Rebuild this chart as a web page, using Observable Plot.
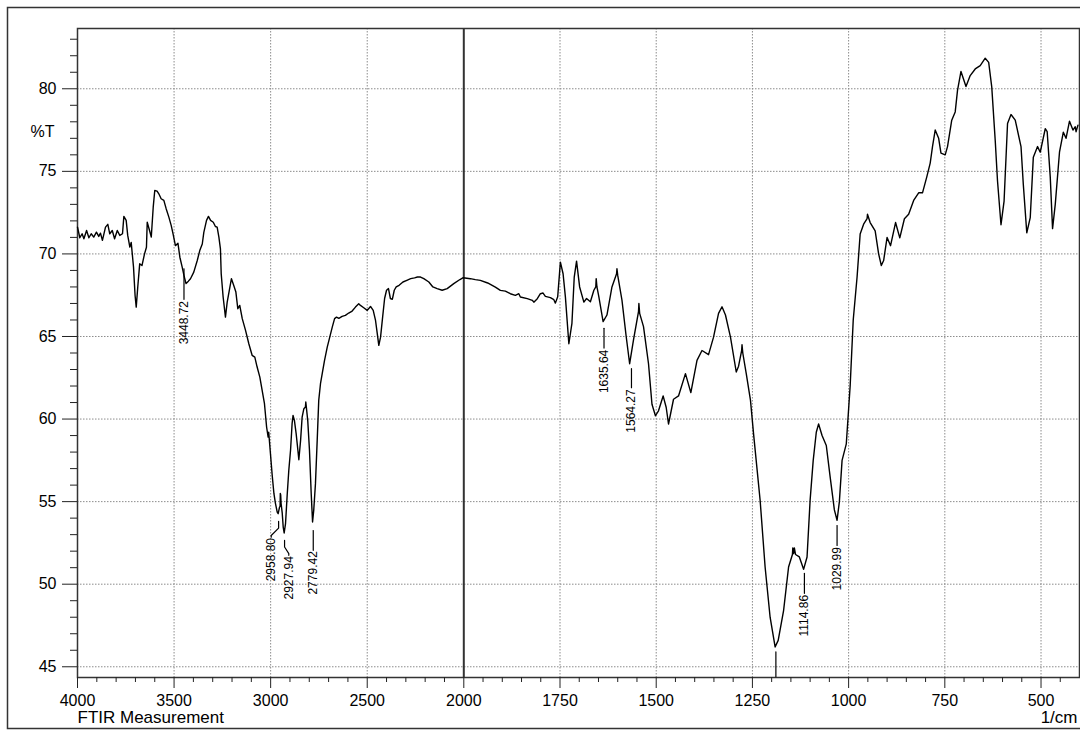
<!DOCTYPE html>
<html><head><meta charset="utf-8">
<script src="https://cdn.jsdelivr.net/npm/d3@7"></script>
<script src="https://cdn.jsdelivr.net/npm/@observablehq/plot@0.6"></script>
<style>
html,body{margin:0;padding:0;background:#fff;}
#chart svg{display:block;}
</style></head><body><div id="chart"></div>
<script>
// Spectrum: wavenumber (1/cm) and transmittance (%T)
const wavenumber = [
4000,3988,3976,3967,3953,3941,3929,3916,3902,3890,3881,3871,3855,3843,3833,3820,3808,3794,3781,3767,
3760,3748,3740,3729,3722,3710,3702,3696,3688,3678,3666,3653,3643,3639,3627,3618,3608,3600,3588,3579,
3567,3553,3541,3527,3515,3505,3493,3480,3470,3458,3447,3438,3426,3415,3398,3380,3367,3354,3346,3332,
3322,3311,3297,3286,3277,3268,3260,3256,3246,3234,3225,3211,3203,3191,3180,3170,3160,3147,3130,3113,
3096,3082,3070,3056,3044,3032,3021,3013,3010,3001,2992,2983,2975,2966,2961,2954,2951,2950,2948,2946,
2940,2935,2930,2923,2914,2906,2897,2889,2884,2877,2868,2859,2854,2845,2837,2828,2820,2818,2808,2799,
2790,2783,2777,2768,2759,2751,2742,2733,2721,2707,2694,2681,2669,2659,2647,2630,2613,2596,2578,2561,
2544,2535,2518,2500,2483,2469,2457,2448,2440,2431,2420,2410,2400,2390,2380,2370,2360,2350,2335,2315,
2295,2275,2255,2240,2224,2207,2181,2160,2138,2112,2086,2052,2020,2003,
1983,1970,1957,1938,1918,1905,1892,1879,1866,1857,1853,1835,1822,1818,1809,1801,1794,1788,1775,1766,1762,
1756,1749,1742,1736,1727,1719,1713,1707,1699,1688,1681,1671,1662,1657,
1656,1654,1649,1638,1628,1615,1603,1602,1600,1589,1578,1569,1559,1546,1545,1543,1533,1520,1511,1502,
1494,1482,1474,1468,1455,1442,1424,1410,1394,1381,1364,1351,1338,1329,1320,1307,1292,1286,1278,1277,
1275,1266,1255,1247,1230,1217,1204,1191,1183,1169,1156,1146,1145,1143,1141,1138,1128,1117,1108,1100,
1092,1084,1078,1069,1058,1048,1037,1030,1024,1017,1006,996,988,978,970,961,952,951,944,931,
922,915,909,900,891,878,867,855,844,831,818,808,797,788,782,775,766,760,749,743,
732,723,717,708,695,684,671,658,645,636,628,619,613,604,596,587,578,567,552,546,
537,528,520,509,502,489,484,476,470,463,452,442,435,426,417,411,409,404
];
const transmittance = [
71.62,70.98,71.22,70.92,71.42,70.98,71.22,71.02,71.32,71.06,71.26,70.82,71.62,71.79,71.22,71.42,70.92,71.42,71.12,71.22,
72.27,72.03,71.12,70.41,70.7,69.2,67.5,66.78,68.0,69.4,69.3,70.0,70.4,71.92,71.42,71.02,72.83,73.84,73.8,73.64,
73.34,73.24,72.74,72.23,71.73,71.2,70.5,70.65,69.8,69.2,68.6,68.2,68.35,68.5,68.9,69.6,70.2,70.6,71.3,72.03,
72.27,72.03,71.92,71.66,71.62,71.02,70.31,68.8,67.39,66.17,67.08,67.99,68.5,68.09,67.69,66.68,66.88,66.08,65.37,64.56,
63.86,63.75,63.15,62.54,61.74,60.93,59.52,58.91,59.2,57.9,56.6,55.48,54.88,54.37,54.27,54.67,54.7,55.5,55.4,54.9,
54.3,53.46,53.1,53.67,55.48,56.9,58.11,59.72,60.22,59.92,59.12,58.11,57.54,58.71,60.12,60.63,60.73,61.03,59.92,58.11,
55.48,53.77,54.47,56.09,58.71,61.13,62.14,62.75,63.55,64.36,64.96,65.57,66.08,66.17,66.1,66.22,66.28,66.42,66.54,66.78,
66.98,66.88,66.74,66.58,66.82,66.58,65.97,65.17,64.46,64.96,66.2,67.3,67.8,67.9,67.3,67.25,67.8,68.0,68.1,68.3,
68.4,68.5,68.55,68.6,68.6,68.5,68.3,68.0,67.9,67.8,67.9,68.2,68.45,68.56,
68.5,68.44,68.4,68.24,67.99,67.79,67.75,67.59,67.49,67.59,67.39,67.29,67.19,67.08,67.29,67.59,67.63,67.43,67.35,67.23,67.02,
67.4,69.5,68.8,67.4,64.56,65.8,68.6,69.56,68.0,67.08,67.3,67.1,67.8,68.0,
68.5,68.0,67.4,65.9,66.3,68.0,68.8,69.1,68.7,67.2,65.0,63.35,64.8,66.5,67.0,66.4,65.6,63.35,60.9,60.2,
60.5,61.4,60.7,59.7,61.2,61.4,62.75,61.6,63.55,64.15,63.9,64.96,66.4,66.8,66.3,64.96,62.85,63.2,64.15,64.5,
64.0,62.75,61.13,59.1,55.1,51.04,48.0,46.2,46.6,48.4,51.04,51.8,52.2,51.85,52.2,51.8,51.65,50.9,51.65,55.1,
57.5,59.2,59.7,59.0,58.4,56.5,54.5,53.87,55.0,57.5,58.5,62.0,66.0,68.6,71.2,71.8,72.13,72.4,71.9,71.4,
70.0,69.3,69.6,71.0,70.5,71.9,70.97,72.13,72.4,73.24,73.7,73.7,74.65,75.5,76.5,77.5,77.0,76.1,76.0,76.5,
78.1,78.6,79.9,81.05,80.14,80.8,81.2,81.4,81.85,81.6,80.1,76.87,74.4,71.77,73.2,77.9,78.44,78.1,76.5,74.2,
71.28,72.2,75.86,76.5,76.16,77.58,77.4,74.65,71.53,73.0,76.16,77.37,77.0,78.04,77.5,77.7,77.4,77.8
];

// Tick values
const xMajorTicks = [4000, 3500, 3000, 2500, 2000, 1750, 1500, 1250, 1000, 750, 500];
const xMinorTicks = [3900,3800,3700,3600,3400,3300,3200,3100,2900,2800,2700,2600,2400,2300,2200,2100,
  1950,1900,1850,1800,1700,1650,1600,1550,1450,1400,1350,1300,1200,1150,1100,1050,950,900,850,800,700,650,600,550,450];
const yMajorTicks = [45, 50, 55, 60, 65, 70, 75, 80];
const yMinorTicks = [46,47,48,49,51,52,53,54,56,57,58,59,61,62,63,64,66,67,68,69,71,72,73,74,76,77,78,79,81,82,83];

// Peak annotations
const peakLabel  = ["3448.72", "2958.80", "2927.94", "2779.42", "1635.64", "1564.27", "1114.86", "1029.99"];
const peakLabelX = [3448.72, 2997, 2906, 2779.42, 1635.64, 1564.27, 1114.86, 1029.99];
const peakLabelT = [67.15, 52.8, 51.7, 52.0, 64.2, 61.8, 49.35, 52.25];

// Leader lines (wavenumber, %T, peak id)
const leaderX  = [3448.72,3448.72, 2958.8,2958.8,2997,2997, 2927.94,2927.94,2906,2906, 2779.42,2779.42,
                  1635.64,1635.64, 1564.27,1564.27, 1189,1189, 1114.86,1114.86, 1029.99,1029.99];
const leaderT  = [69.1,67.25, 53.8,53.4,52.95,52.85, 52.65,52.25,51.85,51.75, 53.25,52.05,
                  65.5,64.3, 63.05,61.9, 45.9,44.4, 50.65,49.45, 53.55,52.35];
const leaderId = [1,1, 2,2,2,2, 3,3,3,3, 4,4, 5,5, 6,6, 7,7, 8,8, 9,9];

const spectrum = wavenumber.map((w, i) => ({w, t: transmittance[i]}));
const leaders = leaderX.map((w, i) => ({w, t: leaderT[i], id: leaderId[i]}));
const labels = peakLabel.map((s, i) => ({s, w: peakLabelX[i], t: peakLabelT[i]}));

const font = '"Liberation Sans", Arial, Helvetica, sans-serif';
const gridStyle = {stroke: "#8c8c8c", strokeOpacity: 1, strokeWidth: 1, strokeDasharray: "1.5,1.5"};

const chart = Plot.plot({
  width: 1080, height: 731,
  marginLeft: 77, marginRight: 1, marginTop: 28, marginBottom: 54,
  style: {fontFamily: font, background: "#fff", color: "#000"},
  x: {type: "linear", domain: [4000, 2000, 400], range: [77, 463.3, 1079]},
  y: {domain: [44.35, 83.65]},
  marks: [
    Plot.frame({stroke: "#333", strokeWidth: 1.5, insetLeft: -70, insetTop: -21, insetBottom: -51, insetRight: -3}),
    Plot.gridX(xMajorTicks.filter(d => d !== 4000 && d !== 2000), gridStyle),
    Plot.gridY(yMajorTicks, gridStyle),
    Plot.ruleX([2000], {stroke: "#333", strokeWidth: 2}),
    Plot.frame({stroke: "#333", strokeWidth: 1.5}),
    Plot.axisX(xMinorTicks, {tickSize: 5, fill: "none", label: null, stroke: "#222"}),
    Plot.axisX(xMajorTicks, {tickSize: 11, tickPadding: 6, fontSize: 16, label: null, tickFormat: "d", stroke: "#222"}),
    Plot.axisY(yMinorTicks, {tickSize: 7, fill: "none", label: null, stroke: "#222"}),
    Plot.axisY(yMajorTicks, {tickSize: 15, tickPadding: 6, fontSize: 16, label: null, tickFormat: "d", stroke: "#222"}),
    Plot.line(leaders, {x: "w", y: "t", z: "id", stroke: "#000", strokeWidth: 1.2}),
    Plot.line(spectrum, {x: "w", y: "t", stroke: "#000", strokeWidth: 1.4}),
    Plot.text(labels, {x: "w", y: "t", text: "s", rotate: -90, textAnchor: "end", fontSize: 12, fill: "#000"}),
    Plot.text(["%T"], {frameAnchor: "left", y: [77.4], dx: -23, textAnchor: "end", lineAnchor: "middle", fontSize: 16}),
    Plot.text(["FTIR Measurement"], {frameAnchor: "bottom-left", dy: 40, textAnchor: "start", lineAnchor: "middle", fontSize: 17}),
    Plot.text(["1/cm"], {frameAnchor: "bottom-right", dy: 40.5, dx: -2, textAnchor: "end", lineAnchor: "middle", fontSize: 17})
  ]
});
document.getElementById("chart").append(chart);
</script>
</body></html>
